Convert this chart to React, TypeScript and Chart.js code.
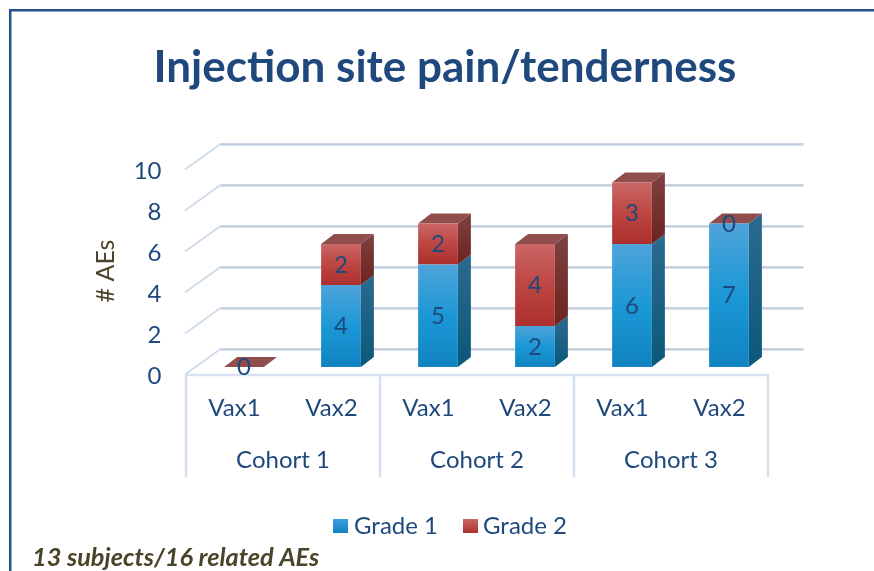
import React, { useEffect, useRef } from "react";
import { Chart, registerables } from "chart.js";

Chart.register(...registerables);

const titleText = "Injection site pain/tenderness";
const axisTitle = "# AEs";
const footnote = "13 subjects/16 related AEs";
const vaxLabels = ["Vax1", "Vax2", "Vax1", "Vax2", "Vax1", "Vax2"];
const cohortLabels = ["Cohort 1", "Cohort 2", "Cohort 3"];
const seriesNames = ["Grade 1", "Grade 2"];
const grade1 = [0, 4, 5, 2, 6, 7];
const grade2 = [0, 2, 2, 4, 3, 0];
const NAVY = "#1f497d";
const OLIVE = "#4a452a";
const FONT = "Lato, Carlito, sans-serif";

const DX = 13, DY = 10; // bar depth
const WX = 34.5, WYF = 7.5, WYB = 18; // wall depth

function grad(ctx: any, top: number, base: number, stops: [number, string][]) {
  const g = ctx.createLinearGradient(0, top, 0, base);
  stops.forEach(([o, c]) => g.addColorStop(o, c));
  return g;
}

const BLUE: [number, string][] = [[0, "#4fa3d9"], [0.5, "#1b98d6"], [1, "#1183c1"]];
const RED: [number, string][] = [[0, "#c96765"], [0.5, "#bd4542"], [1, "#ab302d"]];
const BLUE_SIDE: [number, string][] = [[0, "#2c6a90"], [1, "#0b5879"]];
const RED_SIDE: [number, string][] = [[0, "#7d4240"], [1, "#6c2320"]];

function barFill(stops: [number, string][], which: number) {
  return (c: any) => {
    const y = c.chart.scales?.y;
    if (!y || c.dataIndex === undefined) return stops[1][1];
    const low = which === 0 ? 0 : grade1[c.dataIndex];
    const high = low + (which === 0 ? grade1 : grade2)[c.dataIndex];
    const top = y.getPixelForValue(high);
    const base = y.getPixelForValue(low);
    if (!Number.isFinite(top) || !Number.isFinite(base)) return stops[1][1];
    return grad(c.chart.ctx, top, base, stops);
  };
}

const scene = {
  id: "scene",
  beforeDatasetsDraw(chart: any) {
    const { ctx, scales } = chart;
    const { x, x2, y } = scales;
    const wallLeft = x.left - 9.5;
    const wallRight = x.right - 9.5;
    ctx.save();
    // walls: gridlines
    y.ticks.forEach((t: any) => {
      const py = y.getPixelForValue(t.value);
      ctx.lineWidth = 2;
      ctx.strokeStyle = "#d0dcec";
      ctx.beginPath();
      ctx.moveTo(wallLeft - 1, py + WYF);
      ctx.lineTo(wallLeft + WX, py - WYB);
      ctx.stroke();
      ctx.lineWidth = 1.6;
      ctx.strokeStyle = "#d6e1f0";
      ctx.beginPath();
      ctx.moveTo(wallLeft + WX, py - WYB + 1.2);
      ctx.lineTo(wallRight + WX + 1, py - WYB + 1.2);
      ctx.stroke();
      ctx.strokeStyle = "#b9c4d4";
      ctx.beginPath();
      ctx.moveTo(wallLeft + WX, py - WYB);
      ctx.lineTo(wallRight + WX + 1, py - WYB);
      ctx.stroke();
    });
    // floor front and dividers
    const floorY = y.getPixelForValue(0) + 8;
    ctx.strokeStyle = "#d5e1f1";
    ctx.lineWidth = 2.5;
    ctx.beginPath();
    ctx.moveTo(wallLeft - 1, floorY);
    ctx.lineTo(wallRight + 1, floorY);
    ctx.stroke();
    const groupW = (x2.right - x2.left) / cohortLabels.length;
    for (let i = 0; i <= cohortLabels.length; i++) {
      const px = x2.left - 9.5 + groupW * i;
      ctx.beginPath();
      ctx.moveTo(px, floorY);
      ctx.lineTo(px, 477);
      ctx.stroke();
    }
    // bar depth faces
    [0, 1].forEach((d) => {
      const meta = chart.getDatasetMeta(d);
      meta.data.forEach((b: any) => {
        const half = b.width / 2;
        const r = b.x + half;
        const top = b.y;
        const base = b.base;
        if (base - top > 0.5) {
          ctx.fillStyle = grad(ctx, top - DY, base, d === 0 ? BLUE_SIDE : RED_SIDE);
          ctx.beginPath();
          ctx.moveTo(r, top);
          ctx.lineTo(r + DX, top - DY);
          ctx.lineTo(r + DX, base - DY);
          ctx.lineTo(r, base);
          ctx.closePath();
          ctx.fill();
        }
        if (d === 1) {
          ctx.fillStyle = "#8f4d4b";
          ctx.beginPath();
          ctx.moveTo(b.x - half, top);
          ctx.lineTo(b.x - half + DX, top - DY);
          ctx.lineTo(r + DX, top - DY);
          ctx.lineTo(r, top);
          ctx.closePath();
          ctx.fill();
        }
      });
    });
    ctx.restore();
  },
  afterDatasetsDraw(chart: any) {
    const { ctx } = chart;
    ctx.save();
    ctx.fillStyle = NAVY;
    ctx.font = `24px ${FONT}`;
    ctx.textAlign = "center";
    ctx.textBaseline = "middle";
    [0, 1].forEach((d) => {
      const values = d === 0 ? grade1 : grade2;
      chart.getDatasetMeta(d).data.forEach((b: any, i: number) => {
        if (d === 0 && values[i] === 0) return;
        ctx.fillText(String(values[i]), b.x, (b.y + b.base) / 2 + 0.5);
      });
    });
    ctx.restore();
  },
  afterDraw(chart: any) {
    const { ctx, width, height } = chart;
    ctx.save();
    // frame
    ctx.strokeStyle = "#23508c";
    ctx.lineWidth = 2.5;
    ctx.beginPath();
    ctx.moveTo(10.2, height);
    ctx.lineTo(10.2, 10.2);
    ctx.lineTo(width, 10.2);
    ctx.stroke();
    // legend
    const sw = [[333, 354], [463, 483]];
    ctx.font = `24px ${FONT}`;
    ctx.textBaseline = "middle";
    ctx.textAlign = "left";
    seriesNames.forEach((name, i) => {
      const g = ctx.createLinearGradient(0, 519, 0, 533);
      g.addColorStop(0, i === 0 ? "#3aa0dc" : "#c96765");
      g.addColorStop(1, i === 0 ? "#1183c1" : "#ab302d");
      ctx.fillStyle = g;
      ctx.fillRect(sw[i][0], 519, 15, 14);
      ctx.fillStyle = NAVY;
      ctx.fillText(name, sw[i][1], 526);
    });
    // footnote
    ctx.fillStyle = OLIVE;
    ctx.font = `italic bold 25.3px ${FONT}`;
    ctx.fillText(footnote, 32, 558);
    // y axis title
    ctx.translate(105.5, 271);
    ctx.rotate(-Math.PI / 2);
    ctx.textAlign = "center";
    ctx.font = `25px ${FONT}`;
    ctx.fillText(axisTitle, 0, 0);
    ctx.restore();
  },
};

function fix(size: number, vertical: boolean) {
  return (s: any) => {
    if (vertical) s.width = size;
    else s.height = size;
    s.paddingTop = s.paddingBottom = s.paddingLeft = s.paddingRight = 0;
  };
}

export default function App() {
  const ref = useRef<HTMLCanvasElement>(null);
  useEffect(() => {
    const chart = new Chart(ref.current as HTMLCanvasElement, {
      type: "bar",
      data: {
        labels: vaxLabels,
        datasets: [
          { label: seriesNames[0], data: grade1, backgroundColor: barFill(BLUE, 0) as any, stack: "s", xAxisID: "x", yAxisID: "y" },
          { label: seriesNames[1], data: grade2, backgroundColor: barFill(RED, 1) as any, stack: "s", xAxisID: "x", yAxisID: "y" },
        ],
      },
      options: {
        responsive: false,
        animation: false,
        barPercentage: 0.41,
        categoryPercentage: 1,
        layout: { padding: { left: 16, right: 0, top: 0, bottom: 0 } },
        plugins: {
          tooltip: { enabled: false },
          legend: { display: false },
          title: {
            display: true,
            text: titleText,
            color: NAVY,
            font: { family: FONT, size: 44, weight: "bold", lineHeight: 1.2 },
            padding: { top: 41, bottom: 68.2 },
          },
        },
        scales: {
          x: {
            stacked: true,
            position: "bottom",
            afterFit: fix(64, false),
            grid: { display: false },
            border: { display: false },
            ticks: { color: NAVY, font: { family: FONT, size: 24 }, padding: 19, labelOffset: -9.5, maxRotation: 0, autoSkip: false },
          },
          x2: {
            type: "category",
            labels: cohortLabels,
            position: "bottom",
            afterFit: fix(140, false),
            grid: { display: false },
            border: { display: false },
            ticks: { color: NAVY, font: { family: FONT, size: 24 }, padding: 7, labelOffset: -9.5, maxRotation: 0, autoSkip: false },
          },
          y: {
            stacked: true,
            min: 0,
            max: 10,
            position: "left",
            afterFit: fix(179.5, true),
            grid: { display: false },
            border: { display: false },
            ticks: { stepSize: 2, color: NAVY, font: { family: FONT, size: 24 }, padding: 26, labelOffset: 9 },
          },
          yr: {
            type: "linear",
            position: "right",
            afterFit: fix(96.5, true),
            grid: { display: false },
            border: { display: false },
            ticks: { display: false },
          },
        },
      } as any,
      plugins: [scene],
    });
    return () => chart.destroy();
  }, []);
  return (
    <div style={{ position: "absolute", left: 0, top: 0 }}>
      <canvas ref={ref} width={874} height={571} style={{ display: "block" }} />
    </div>
  );
}
